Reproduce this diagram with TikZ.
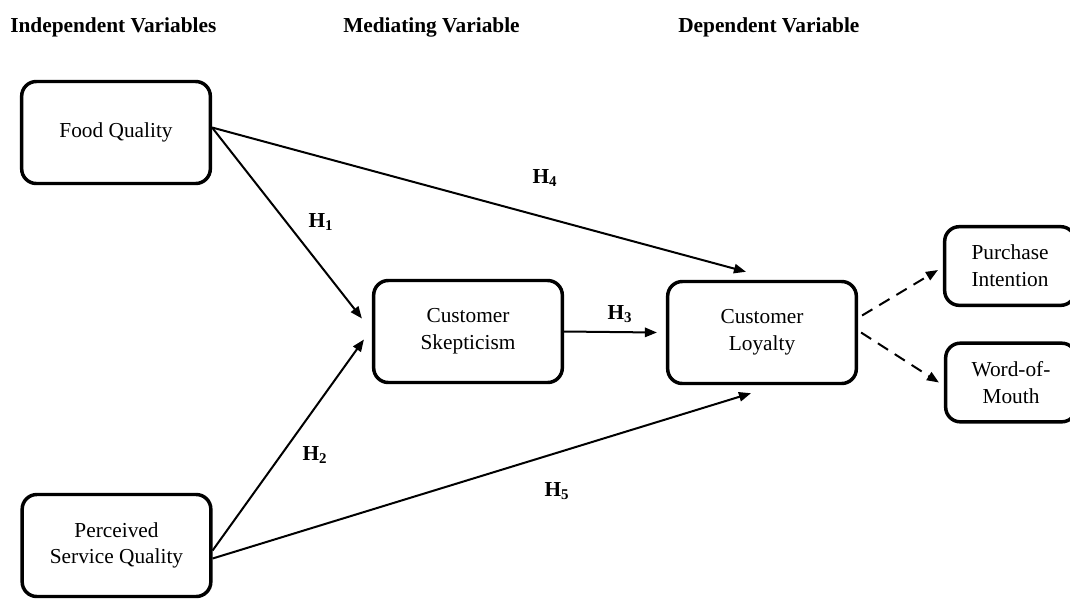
\documentclass[tikz,border=0pt]{standalone}
\usepackage{fontspec}
\setmainfont{Liberation Serif}
\usetikzlibrary{arrows.meta,calc}
\tikzset{
  varbox/.style={draw, line width=2.6pt, rounded corners=11pt, align=center,
    font=\fontsize{16}{20}\selectfont, inner sep=2pt},
  bigbox/.style={varbox, minimum width=141.5pt, minimum height=76.5pt},
  smallbox/.style={varbox, minimum width=98pt, minimum height=59pt},
  header/.style={font=\fontsize{16}{19}\selectfont\bfseries, anchor=base west, inner sep=0pt},
  hlabel/.style={font=\fontsize{16}{19}\selectfont\bfseries, inner sep=0pt},
  link/.style={line width=1.5pt, -{Triangle[length=9pt,width=7pt]}},
  dlink/.style={link, dash pattern=on 9pt off 6pt},
}
\begin{document}
\begin{tikzpicture}[x=0.75pt,y=-0.75pt]
  \useasboundingbox (0,0) rectangle (1070,601);

  % column headings
  \node[header] (hind) at (10,32) {Independent Variables};
  \node[header] (hmed) at (343,32) {Mediating Variable};
  \node[header] (hdep) at (678,32) {Dependent Variable};

  % constructs
  \node[bigbox] (fq)  at (116,132.5) {Food Quality};
  \node[bigbox] (psq) at (116.5,545.5) {Perceived\\Service Quality};
  \node[bigbox] (cs)  at (468,331.5) {Customer\\Skepticism};
  \node[bigbox] (cl)  at (762,332.5) {Customer\\Loyalty};
  \node[smallbox] (pi)  at (1010,266) {Purchase\\Intention};
  \node[smallbox] (wom) at (1011,382.5) {Word-of-\\Mouth};

  % hypothesised paths
  \draw[link] ($(fq.east)+(0,-5)$) -- ($(cs.west)+(-10,-13)$);
  \draw[link] ($(psq.east)+(0,5)$) -- ($(cs.west)+(-8,8)$);
  \draw[link] (cs.east) -- ($(cl.west)+(-9,0)$);
  \draw[link] ($(fq.east)+(0,-5)$) -- ($(cl.north west)+(80,-8)$);
  \draw[link] ($(psq.east)+(0,13)$) -- ($(cl.south west)+(85,8)$);

  % outcome dimensions
  \draw[dlink] ($(cl.east)+(4,-17)$) -- ($(pi.west)+(-5,4)$);
  \draw[dlink] ($(cl.east)+(3,0)$) -- ($(wom.west)+(-5,0)$);

  % path labels
  \node[hlabel] (h1) at (321,222) {H\textsubscript{1}};
  \node[hlabel] (h2) at (315,455) {H\textsubscript{2}};
  \node[hlabel] (h3) at (620,314) {H\textsubscript{3}};
  \node[hlabel] (h4) at (545,178) {H\textsubscript{4}};
  \node[hlabel] (h5) at (557,491) {H\textsubscript{5}};
\end{tikzpicture}
\end{document}
